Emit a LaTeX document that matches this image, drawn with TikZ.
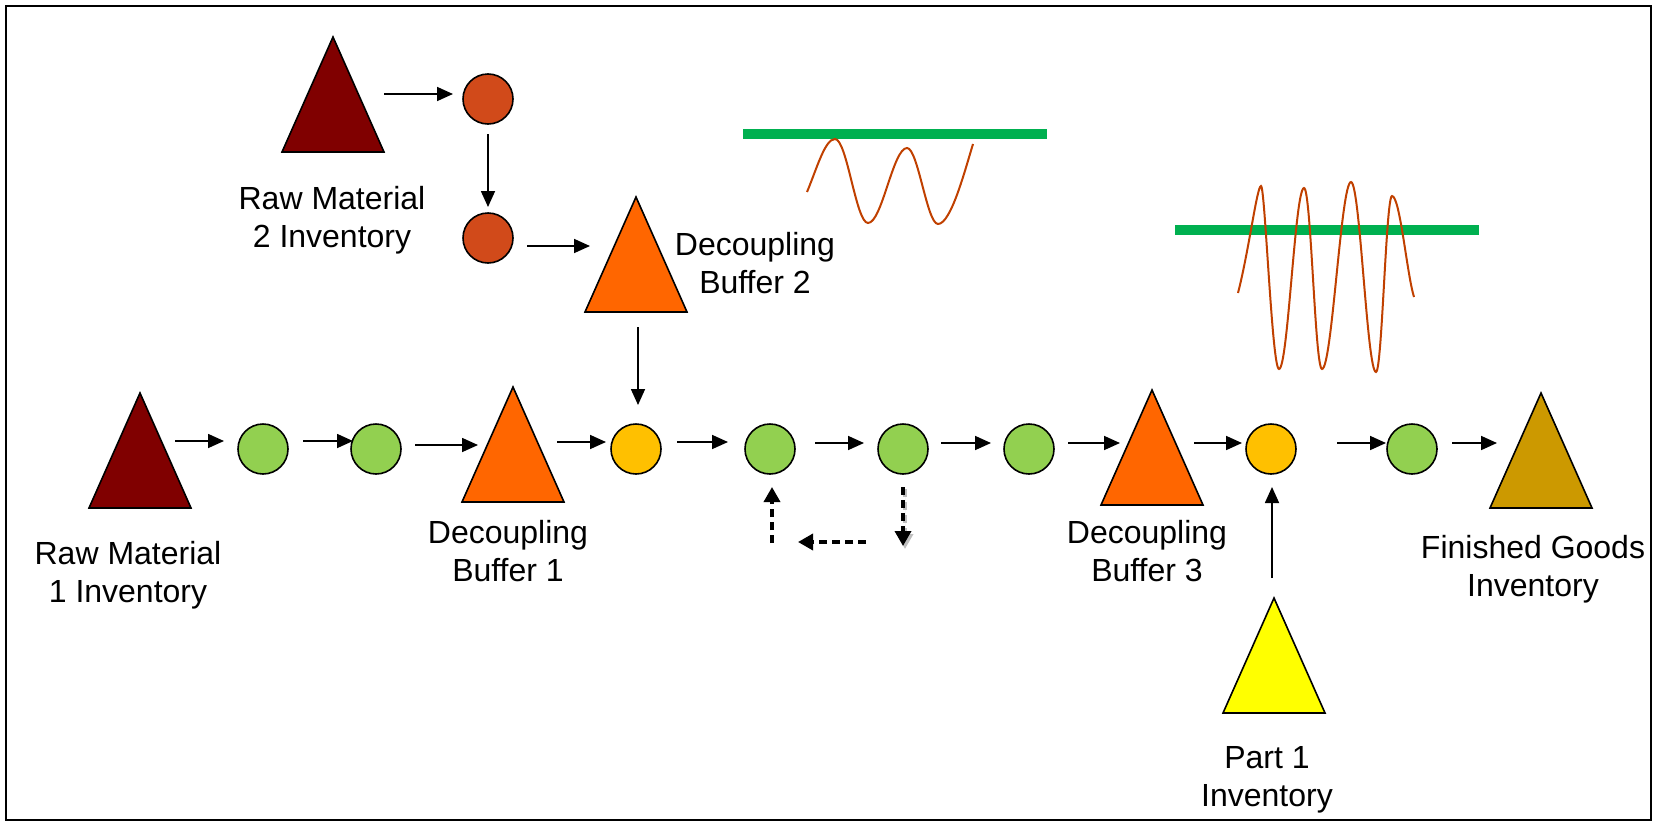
\documentclass[tikz,border=0pt]{standalone}
\usepackage{fontspec}
\setmainfont{Liberation Sans}
\usetikzlibrary{arrows.meta,shapes.geometric}
\definecolor{rawc}{RGB}{128,0,0}
\definecolor{redball}{RGB}{209,74,26}
\definecolor{dbc}{RGB}{255,102,0}
\definecolor{greenball}{RGB}{146,208,80}
\definecolor{ambball}{RGB}{255,192,0}
\definecolor{partc}{RGB}{255,255,0}
\definecolor{fgc}{RGB}{204,153,0}
\definecolor{barc}{RGB}{0,176,80}
\definecolor{wavec}{RGB}{192,64,0}
\newcommand{\twolines}[2]{\vtop{\halign{\hfil##\hfil\cr #1\cr #2\cr}}}
\tikzset{
  arr/.style={-{Triangle[length=16pt,width=14pt]}, line width=1.7pt},
  dasharr/.style={-{Triangle[length=15pt,width=16pt]}, line width=3.5pt, dash pattern=on 8pt off 5pt},
  ball/.style={circle, draw=black, line width=1.6pt, minimum size=50pt, inner sep=0pt, outer sep=0pt},
  tri/.style={isosceles triangle, isosceles triangle stretches, shape border rotate=90,
    minimum width=102pt, minimum height=115pt, inner sep=0pt, outer sep=0pt,
    draw=black, line width=1.6pt, anchor=apex},
  lbl/.style={font=\fontsize{32}{38}\selectfont, anchor=base, inner sep=0pt},
  bar/.style={line width=10pt, draw=barc},
  wave/.style={line width=2pt, draw=wavec},
}
\begin{document}
\begin{tikzpicture}[x=1pt,y=-1pt]
\useasboundingbox (0,0) rectangle (1653,822);
\draw[line width=2pt] (6,6) rectangle (1651,820);

% bars and waves
\draw[bar] (743,134) -- (1047,134);
\draw[wave] (807,192) .. controls (817,168) and (825,139) .. (835,139)
  .. controls (847,139) and (856,223) .. (868,223)
  .. controls (882,223) and (893,148) .. (907,148)
  .. controls (918,148) and (927,224) .. (938,224)
  .. controls (951,224) and (965,170) .. (973,144);
\draw[bar] (1175,230) -- (1479,230);
\draw[wave] (1238,293) .. controls (1249,250) and (1257,186) .. (1261,186)
  .. controls (1265,186) and (1272,369) .. (1279,369)
  .. controls (1288,369) and (1295,188) .. (1304,188)
  .. controls (1311,188) and (1315,369) .. (1322,369)
  .. controls (1332,369) and (1341,182) .. (1351,182)
  .. controls (1360,182) and (1367,372) .. (1376,372)
  .. controls (1382,372) and (1386,196) .. (1392,196)
  .. controls (1400,196) and (1407,275) .. (1414,297);

% triangles
\node[tri, fill=rawc] (rm2) at (333,37) {};
\node[tri, fill=dbc] (db2) at (636,197) {};
\node[tri, fill=rawc] (rm1) at (140,393) {};
\node[tri, fill=dbc] (db1) at (513,387) {};
\node[tri, fill=dbc] (db3) at (1152,390) {};
\node[tri, fill=partc] (p1) at (1274,598) {};
\node[tri, fill=fgc] (fg) at (1541,393) {};

% balls
\node[ball, fill=redball] (o1) at (488,99) {};
\node[ball, fill=redball] (o2) at (488,238) {};
\node[ball, fill=greenball] (g1) at (263,449) {};
\node[ball, fill=greenball] (g2) at (376,449) {};
\node[ball, fill=ambball] (y1) at (636,449) {};
\node[ball, fill=greenball] (g3) at (770,449) {};
\node[ball, fill=greenball] (g4) at (903,449) {};
\node[ball, fill=greenball] (g5) at (1029,449) {};
\node[ball, fill=ambball] (y2) at (1271,449) {};
\node[ball, fill=greenball] (g6) at (1412,449) {};

% labels
\node[lbl] (lrm2) at (332,209) {\twolines{Raw Material}{2 Inventory}};
\node[lbl] (ldb2) at (755,255) {\twolines{Decoupling}{Buffer 2}};
\node[lbl] (lrm1) at (128,564) {\twolines{Raw Material}{1 Inventory}};
\node[lbl] (ldb1) at (508,543) {\twolines{Decoupling}{Buffer 1}};
\node[lbl] (ldb3) at (1147,543) {\twolines{Decoupling}{Buffer 3}};
\node[lbl] (lp1) at (1267,768) {\twolines{Part 1}{Inventory}};
\node[lbl] (lfg) at (1533,558) {\twolines{Finished Goods}{Inventory}};

% arrows
\draw[arr] ([shift={(51,57)}]rm2.apex) -- ([shift={(-10,-5)}]o1.west);
\draw[arr] ([shift={(0,10)}]o1.south) -- ([shift={(0,-6)}]o2.north);
\draw[arr] ([shift={(14,8)}]o2.east) -- ([shift={(-46,49)}]db2.apex);
\draw[arr] ([shift={(2,130)}]db2.apex) -- ([shift={(2,-19)}]y1.north);
\draw[arr] ([shift={(35,48)}]rm1.apex) -- ([shift={(-14,-8)}]g1.west);
\draw[arr] ([shift={(15,-8)}]g1.east) -- ([shift={(2,-8)}]g2.west);
\draw[arr] ([shift={(14,-4)}]g2.east) -- ([shift={(-35,58)}]db1.apex);
\draw[arr] ([shift={(44,55)}]db1.apex) -- ([shift={(-5,-7)}]y1.west);
\draw[arr] ([shift={(16,-7)}]y1.east) -- ([shift={(-17,-7)}]g3.west);
\draw[arr] ([shift={(20,-6)}]g3.east) -- ([shift={(-14,-6)}]g4.west);
\draw[arr] ([shift={(13,-6)}]g4.east) -- ([shift={(-13,-6)}]g5.west);
\draw[arr] ([shift={(14,-6)}]g5.east) -- ([shift={(-32,53)}]db3.apex);
\draw[arr] ([shift={(42,53)}]db3.apex) -- ([shift={(-4,-6)}]y2.west);
\draw[arr] ([shift={(-2,-20)}]p1.apex) -- ([shift={(1,13)}]y2.south);
\draw[arr] ([shift={(41,-6)}]y2.east) -- ([shift={(-1,-6)}]g6.west);
\draw[arr] ([shift={(15,-6)}]g6.east) -- ([shift={(-44,50)}]fg.apex);

% dashed rework loop
\draw[dasharr, draw=black!25, fill=black!25] ([shift={(2,15)}]g4.south) -- ([shift={(2,75)}]g4.south);
\draw[dasharr] ([shift={(0,13)}]g4.south) -- ([shift={(0,72)}]g4.south);
\draw[dasharr] ([shift={(-37,68)}]g4.south) -- ([shift={(28,68)}]g3.south);
\draw[dasharr] ([shift={(2,69)}]g3.south) -- ([shift={(2,13)}]g3.south);
\end{tikzpicture}
\end{document}
